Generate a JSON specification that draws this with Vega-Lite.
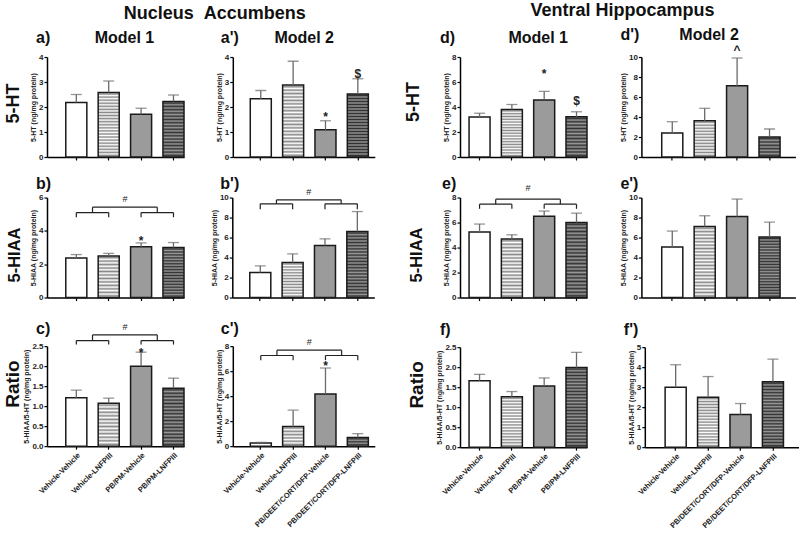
{
"$schema":"https://vega.github.io/schema/vega-lite/v6.json",
"padding":{"left":3,"top":2,"right":0,"bottom":0},
"config":{
"font":"Liberation Sans",
"view":{"stroke":null},
"axis":{"grid":false,"domainColor":"#000","domainWidth":1.5,"tickColor":"#000","tickWidth":1.2,"tickSize":3,"labelFont":"Liberation Sans","labelFontSize":8,"labelFontWeight":"bold","labelColor":"#222","labelPadding":1,"titleFont":"Liberation Sans","titleFontSize":7,"titleFontWeight":"bold","titleColor":"#222","titlePadding":2},
"title":{"font":"Liberation Sans","fontWeight":"bold","color":"#111"},
"style":{
"L6":{"color":{"gradient":"linear","x1":0,"y1":0,"x2":0,"y2":1,"stops":[{"offset":0,"color":"#fff"},{"offset":0.0833,"color":"#888"},{"offset":0.1667,"color":"#fff"},{"offset":0.25,"color":"#888"},{"offset":0.3333,"color":"#fff"},{"offset":0.4167,"color":"#888"},{"offset":0.5,"color":"#fff"},{"offset":0.5833,"color":"#888"},{"offset":0.6667,"color":"#fff"},{"offset":0.75,"color":"#888"},{"offset":0.8333,"color":"#fff"},{"offset":0.9167,"color":"#888"},{"offset":1,"color":"#fff"}]}},
"L12":{"color":{"gradient":"linear","x1":0,"y1":0,"x2":0,"y2":1,"stops":[{"offset":0,"color":"#fff"},{"offset":0.0417,"color":"#888"},{"offset":0.0833,"color":"#fff"},{"offset":0.125,"color":"#888"},{"offset":0.1667,"color":"#fff"},{"offset":0.2083,"color":"#888"},{"offset":0.25,"color":"#fff"},{"offset":0.2917,"color":"#888"},{"offset":0.3333,"color":"#fff"},{"offset":0.375,"color":"#888"},{"offset":0.4167,"color":"#fff"},{"offset":0.4583,"color":"#888"},{"offset":0.5,"color":"#fff"},{"offset":0.5417,"color":"#888"},{"offset":0.5833,"color":"#fff"},{"offset":0.625,"color":"#888"},{"offset":0.6667,"color":"#fff"},{"offset":0.7083,"color":"#888"},{"offset":0.75,"color":"#fff"},{"offset":0.7917,"color":"#888"},{"offset":0.8333,"color":"#fff"},{"offset":0.875,"color":"#888"},{"offset":0.9167,"color":"#fff"},{"offset":0.9583,"color":"#888"},{"offset":1,"color":"#fff"}]}},
"L17":{"color":{"gradient":"linear","x1":0,"y1":0,"x2":0,"y2":1,"stops":[{"offset":0,"color":"#fff"},{"offset":0.0294,"color":"#888"},{"offset":0.0588,"color":"#fff"},{"offset":0.0882,"color":"#888"},{"offset":0.1176,"color":"#fff"},{"offset":0.1471,"color":"#888"},{"offset":0.1765,"color":"#fff"},{"offset":0.2059,"color":"#888"},{"offset":0.2353,"color":"#fff"},{"offset":0.2647,"color":"#888"},{"offset":0.2941,"color":"#fff"},{"offset":0.3235,"color":"#888"},{"offset":0.3529,"color":"#fff"},{"offset":0.3824,"color":"#888"},{"offset":0.4118,"color":"#fff"},{"offset":0.4412,"color":"#888"},{"offset":0.4706,"color":"#fff"},{"offset":0.5,"color":"#888"},{"offset":0.5294,"color":"#fff"},{"offset":0.5588,"color":"#888"},{"offset":0.5882,"color":"#fff"},{"offset":0.6176,"color":"#888"},{"offset":0.6471,"color":"#fff"},{"offset":0.6765,"color":"#888"},{"offset":0.7059,"color":"#fff"},{"offset":0.7353,"color":"#888"},{"offset":0.7647,"color":"#fff"},{"offset":0.7941,"color":"#888"},{"offset":0.8235,"color":"#fff"},{"offset":0.8529,"color":"#888"},{"offset":0.8824,"color":"#fff"},{"offset":0.9118,"color":"#888"},{"offset":0.9412,"color":"#fff"},{"offset":0.9706,"color":"#888"},{"offset":1,"color":"#fff"}]}},
"L21":{"color":{"gradient":"linear","x1":0,"y1":0,"x2":0,"y2":1,"stops":[{"offset":0,"color":"#fff"},{"offset":0.0238,"color":"#888"},{"offset":0.0476,"color":"#fff"},{"offset":0.0714,"color":"#888"},{"offset":0.0952,"color":"#fff"},{"offset":0.119,"color":"#888"},{"offset":0.1429,"color":"#fff"},{"offset":0.1667,"color":"#888"},{"offset":0.1905,"color":"#fff"},{"offset":0.2143,"color":"#888"},{"offset":0.2381,"color":"#fff"},{"offset":0.2619,"color":"#888"},{"offset":0.2857,"color":"#fff"},{"offset":0.3095,"color":"#888"},{"offset":0.3333,"color":"#fff"},{"offset":0.3571,"color":"#888"},{"offset":0.381,"color":"#fff"},{"offset":0.4048,"color":"#888"},{"offset":0.4286,"color":"#fff"},{"offset":0.4524,"color":"#888"},{"offset":0.4762,"color":"#fff"},{"offset":0.5,"color":"#888"},{"offset":0.5238,"color":"#fff"},{"offset":0.5476,"color":"#888"},{"offset":0.5714,"color":"#fff"},{"offset":0.5952,"color":"#888"},{"offset":0.619,"color":"#fff"},{"offset":0.6429,"color":"#888"},{"offset":0.6667,"color":"#fff"},{"offset":0.6905,"color":"#888"},{"offset":0.7143,"color":"#fff"},{"offset":0.7381,"color":"#888"},{"offset":0.7619,"color":"#fff"},{"offset":0.7857,"color":"#888"},{"offset":0.8095,"color":"#fff"},{"offset":0.8333,"color":"#888"},{"offset":0.8571,"color":"#fff"},{"offset":0.881,"color":"#888"},{"offset":0.9048,"color":"#fff"},{"offset":0.9286,"color":"#888"},{"offset":0.9524,"color":"#fff"},{"offset":0.9762,"color":"#888"},{"offset":1,"color":"#fff"}]}},
"D3":{"color":{"gradient":"linear","x1":0,"y1":0,"x2":0,"y2":1,"stops":[{"offset":0,"color":"#999"},{"offset":0.1667,"color":"#333"},{"offset":0.3333,"color":"#999"},{"offset":0.5,"color":"#333"},{"offset":0.6667,"color":"#999"},{"offset":0.8333,"color":"#333"},{"offset":1,"color":"#999"}]}},
"D6":{"color":{"gradient":"linear","x1":0,"y1":0,"x2":0,"y2":1,"stops":[{"offset":0,"color":"#999"},{"offset":0.0833,"color":"#333"},{"offset":0.1667,"color":"#999"},{"offset":0.25,"color":"#333"},{"offset":0.3333,"color":"#999"},{"offset":0.4167,"color":"#333"},{"offset":0.5,"color":"#999"},{"offset":0.5833,"color":"#333"},{"offset":0.6667,"color":"#999"},{"offset":0.75,"color":"#333"},{"offset":0.8333,"color":"#999"},{"offset":0.9167,"color":"#333"},{"offset":1,"color":"#999"}]}},
"D12":{"color":{"gradient":"linear","x1":0,"y1":0,"x2":0,"y2":1,"stops":[{"offset":0,"color":"#999"},{"offset":0.0417,"color":"#333"},{"offset":0.0833,"color":"#999"},{"offset":0.125,"color":"#333"},{"offset":0.1667,"color":"#999"},{"offset":0.2083,"color":"#333"},{"offset":0.25,"color":"#999"},{"offset":0.2917,"color":"#333"},{"offset":0.3333,"color":"#999"},{"offset":0.375,"color":"#333"},{"offset":0.4167,"color":"#999"},{"offset":0.4583,"color":"#333"},{"offset":0.5,"color":"#999"},{"offset":0.5417,"color":"#333"},{"offset":0.5833,"color":"#999"},{"offset":0.625,"color":"#333"},{"offset":0.6667,"color":"#999"},{"offset":0.7083,"color":"#333"},{"offset":0.75,"color":"#999"},{"offset":0.7917,"color":"#333"},{"offset":0.8333,"color":"#999"},{"offset":0.875,"color":"#333"},{"offset":0.9167,"color":"#999"},{"offset":0.9583,"color":"#333"},{"offset":1,"color":"#999"}]}},
"D17":{"color":{"gradient":"linear","x1":0,"y1":0,"x2":0,"y2":1,"stops":[{"offset":0,"color":"#999"},{"offset":0.0294,"color":"#333"},{"offset":0.0588,"color":"#999"},{"offset":0.0882,"color":"#333"},{"offset":0.1176,"color":"#999"},{"offset":0.1471,"color":"#333"},{"offset":0.1765,"color":"#999"},{"offset":0.2059,"color":"#333"},{"offset":0.2353,"color":"#999"},{"offset":0.2647,"color":"#333"},{"offset":0.2941,"color":"#999"},{"offset":0.3235,"color":"#333"},{"offset":0.3529,"color":"#999"},{"offset":0.3824,"color":"#333"},{"offset":0.4118,"color":"#999"},{"offset":0.4412,"color":"#333"},{"offset":0.4706,"color":"#999"},{"offset":0.5,"color":"#333"},{"offset":0.5294,"color":"#999"},{"offset":0.5588,"color":"#333"},{"offset":0.5882,"color":"#999"},{"offset":0.6176,"color":"#333"},{"offset":0.6471,"color":"#999"},{"offset":0.6765,"color":"#333"},{"offset":0.7059,"color":"#999"},{"offset":0.7353,"color":"#333"},{"offset":0.7647,"color":"#999"},{"offset":0.7941,"color":"#333"},{"offset":0.8235,"color":"#999"},{"offset":0.8529,"color":"#333"},{"offset":0.8824,"color":"#999"},{"offset":0.9118,"color":"#333"},{"offset":0.9412,"color":"#999"},{"offset":0.9706,"color":"#333"},{"offset":1,"color":"#999"}]}},
"D21":{"color":{"gradient":"linear","x1":0,"y1":0,"x2":0,"y2":1,"stops":[{"offset":0,"color":"#999"},{"offset":0.0238,"color":"#333"},{"offset":0.0476,"color":"#999"},{"offset":0.0714,"color":"#333"},{"offset":0.0952,"color":"#999"},{"offset":0.119,"color":"#333"},{"offset":0.1429,"color":"#999"},{"offset":0.1667,"color":"#333"},{"offset":0.1905,"color":"#999"},{"offset":0.2143,"color":"#333"},{"offset":0.2381,"color":"#999"},{"offset":0.2619,"color":"#333"},{"offset":0.2857,"color":"#999"},{"offset":0.3095,"color":"#333"},{"offset":0.3333,"color":"#999"},{"offset":0.3571,"color":"#333"},{"offset":0.381,"color":"#999"},{"offset":0.4048,"color":"#333"},{"offset":0.4286,"color":"#999"},{"offset":0.4524,"color":"#333"},{"offset":0.4762,"color":"#999"},{"offset":0.5,"color":"#333"},{"offset":0.5238,"color":"#999"},{"offset":0.5476,"color":"#333"},{"offset":0.5714,"color":"#999"},{"offset":0.5952,"color":"#333"},{"offset":0.619,"color":"#999"},{"offset":0.6429,"color":"#333"},{"offset":0.6667,"color":"#999"},{"offset":0.6905,"color":"#333"},{"offset":0.7143,"color":"#999"},{"offset":0.7381,"color":"#333"},{"offset":0.7619,"color":"#999"},{"offset":0.7857,"color":"#333"},{"offset":0.8095,"color":"#999"},{"offset":0.8333,"color":"#333"},{"offset":0.8571,"color":"#999"},{"offset":0.881,"color":"#333"},{"offset":0.9048,"color":"#999"},{"offset":0.9286,"color":"#333"},{"offset":0.9524,"color":"#999"},{"offset":0.9762,"color":"#333"},{"offset":1,"color":"#999"}]}},
"D25":{"color":{"gradient":"linear","x1":0,"y1":0,"x2":0,"y2":1,"stops":[{"offset":0,"color":"#999"},{"offset":0.02,"color":"#333"},{"offset":0.04,"color":"#999"},{"offset":0.06,"color":"#333"},{"offset":0.08,"color":"#999"},{"offset":0.1,"color":"#333"},{"offset":0.12,"color":"#999"},{"offset":0.14,"color":"#333"},{"offset":0.16,"color":"#999"},{"offset":0.18,"color":"#333"},{"offset":0.2,"color":"#999"},{"offset":0.22,"color":"#333"},{"offset":0.24,"color":"#999"},{"offset":0.26,"color":"#333"},{"offset":0.28,"color":"#999"},{"offset":0.3,"color":"#333"},{"offset":0.32,"color":"#999"},{"offset":0.34,"color":"#333"},{"offset":0.36,"color":"#999"},{"offset":0.38,"color":"#333"},{"offset":0.4,"color":"#999"},{"offset":0.42,"color":"#333"},{"offset":0.44,"color":"#999"},{"offset":0.46,"color":"#333"},{"offset":0.48,"color":"#999"},{"offset":0.5,"color":"#333"},{"offset":0.52,"color":"#999"},{"offset":0.54,"color":"#333"},{"offset":0.56,"color":"#999"},{"offset":0.58,"color":"#333"},{"offset":0.6,"color":"#999"},{"offset":0.62,"color":"#333"},{"offset":0.64,"color":"#999"},{"offset":0.66,"color":"#333"},{"offset":0.68,"color":"#999"},{"offset":0.7,"color":"#333"},{"offset":0.72,"color":"#999"},{"offset":0.74,"color":"#333"},{"offset":0.76,"color":"#999"},{"offset":0.78,"color":"#333"},{"offset":0.8,"color":"#999"},{"offset":0.82,"color":"#333"},{"offset":0.84,"color":"#999"},{"offset":0.86,"color":"#333"},{"offset":0.88,"color":"#999"},{"offset":0.9,"color":"#333"},{"offset":0.92,"color":"#999"},{"offset":0.94,"color":"#333"},{"offset":0.96,"color":"#999"},{"offset":0.98,"color":"#333"},{"offset":1,"color":"#999"}]}}
}
},
"data":{"values":[
{"p":"a","k":"b","g":"Vehicle-Vehicle","m":2.18,"hi":2.5},
{"p":"a","k":"b","g":"Vehicle-LNFPIII","m":2.58,"hi":3.04},
{"p":"a","k":"b","g":"PB/PM-Vehicle","m":1.71,"hi":1.95},
{"p":"a","k":"b","g":"PB/PM-LNFPIII","m":2.22,"hi":2.48},
{"p":"a2","k":"b","g":"Vehicle-Vehicle","m":2.33,"hi":2.66},
{"p":"a2","k":"b","g":"Vehicle-LNFPIII","m":2.88,"hi":3.83},
{"p":"a2","k":"b","g":"PB/DEET/CORT/DFP-Vehicle","m":1.09,"hi":1.45},
{"p":"a2","k":"b","g":"PB/DEET/CORT/DFP-LNFPIII","m":2.52,"hi":3.13},
{"p":"a2","k":"s","g":"PB/DEET/CORT/DFP-Vehicle","t":"*","y":1.71},
{"p":"a2","k":"s","g":"PB/DEET/CORT/DFP-LNFPIII","t":"$","y":3.44},
{"p":"d","k":"b","g":"Vehicle-Vehicle","m":3.2,"hi":3.5},
{"p":"d","k":"b","g":"Vehicle-LNFPIII","m":3.8,"hi":4.2},
{"p":"d","k":"b","g":"PB/PM-Vehicle","m":4.57,"hi":5.25},
{"p":"d","k":"b","g":"PB/PM-LNFPIII","m":3.22,"hi":3.62},
{"p":"d","k":"s","g":"PB/PM-Vehicle","t":"*","y":6.88},
{"p":"d","k":"s","g":"PB/PM-LNFPIII","t":"$","y":4.75},
{"p":"d2","k":"b","g":"Vehicle-Vehicle","m":2.4,"hi":3.53},
{"p":"d2","k":"b","g":"Vehicle-LNFPIII","m":3.63,"hi":4.87},
{"p":"d2","k":"b","g":"PB/DEET/CORT/DFP-Vehicle","m":7.13,"hi":9.9},
{"p":"d2","k":"b","g":"PB/DEET/CORT/DFP-LNFPIII","m":2.0,"hi":2.8},
{"p":"d2","k":"s","g":"PB/DEET/CORT/DFP-Vehicle","t":"^","y":11.0},
{"p":"b","k":"b","g":"Vehicle-Vehicle","m":2.38,"hi":2.58},
{"p":"b","k":"b","g":"Vehicle-LNFPIII","m":2.5,"hi":2.65},
{"p":"b","k":"b","g":"PB/PM-Vehicle","m":3.05,"hi":3.28},
{"p":"b","k":"b","g":"PB/PM-LNFPIII","m":3.0,"hi":3.3},
{"p":"b","k":"s","g":"PB/PM-Vehicle","t":"*","y":3.58},
{"p":"b","k":"br","x":1,"x2":2,"y":5.1,"y2":5.1},
{"p":"b","k":"br","x":1,"x2":1,"y":4.82,"y2":5.1},
{"p":"b","k":"br","x":2,"x2":2,"y":4.82,"y2":5.1},
{"p":"b","k":"br","x":3,"x2":4,"y":5.1,"y2":5.1},
{"p":"b","k":"br","x":3,"x2":3,"y":4.82,"y2":5.1},
{"p":"b","k":"br","x":4,"x2":4,"y":4.82,"y2":5.1},
{"p":"b","k":"br","x":1.5,"x2":3.5,"y":5.42,"y2":5.42},
{"p":"b","k":"br","x":1.5,"x2":1.5,"y":5.1,"y2":5.42},
{"p":"b","k":"br","x":3.5,"x2":3.5,"y":5.1,"y2":5.42},
{"p":"b","k":"h","x":2.5,"y":5.9,"t":"#"},
{"p":"b2","k":"b","g":"Vehicle-Vehicle","m":2.5,"hi":3.17},
{"p":"b2","k":"b","g":"Vehicle-LNFPIII","m":3.5,"hi":4.37},
{"p":"b2","k":"b","g":"PB/DEET/CORT/DFP-Vehicle","m":5.2,"hi":5.87},
{"p":"b2","k":"b","g":"PB/DEET/CORT/DFP-LNFPIII","m":6.6,"hi":8.6},
{"p":"b2","k":"br","x":1,"x2":2,"y":9.37,"y2":9.37},
{"p":"b2","k":"br","x":1,"x2":1,"y":8.84,"y2":9.37},
{"p":"b2","k":"br","x":2,"x2":2,"y":8.84,"y2":9.37},
{"p":"b2","k":"br","x":3,"x2":4,"y":9.37,"y2":9.37},
{"p":"b2","k":"br","x":3,"x2":3,"y":8.84,"y2":9.37},
{"p":"b2","k":"br","x":4,"x2":4,"y":8.84,"y2":9.37},
{"p":"b2","k":"br","x":1.5,"x2":3.5,"y":9.77,"y2":9.77},
{"p":"b2","k":"br","x":1.5,"x2":1.5,"y":9.37,"y2":9.77},
{"p":"b2","k":"br","x":3.5,"x2":3.5,"y":9.37,"y2":9.77},
{"p":"b2","k":"h","x":2.5,"y":10.6,"t":"#"},
{"p":"e","k":"b","g":"Vehicle-Vehicle","m":5.25,"hi":5.88},
{"p":"e","k":"b","g":"Vehicle-LNFPIII","m":4.68,"hi":5.02},
{"p":"e","k":"b","g":"PB/PM-Vehicle","m":6.5,"hi":6.92},
{"p":"e","k":"b","g":"PB/PM-LNFPIII","m":6.0,"hi":6.75},
{"p":"e","k":"br","x":1,"x2":2,"y":7.47,"y2":7.47},
{"p":"e","k":"br","x":1,"x2":1,"y":7.1,"y2":7.47},
{"p":"e","k":"br","x":2,"x2":2,"y":7.1,"y2":7.47},
{"p":"e","k":"br","x":3,"x2":4,"y":7.47,"y2":7.47},
{"p":"e","k":"br","x":3,"x2":3,"y":7.1,"y2":7.47},
{"p":"e","k":"br","x":4,"x2":4,"y":7.1,"y2":7.47},
{"p":"e","k":"br","x":1.5,"x2":3.5,"y":7.87,"y2":7.87},
{"p":"e","k":"br","x":1.5,"x2":1.5,"y":7.47,"y2":7.87},
{"p":"e","k":"br","x":3.5,"x2":3.5,"y":7.47,"y2":7.87},
{"p":"e","k":"h","x":2.5,"y":8.75,"t":"#"},
{"p":"e2","k":"b","g":"Vehicle-Vehicle","m":5.05,"hi":6.65},
{"p":"e2","k":"b","g":"Vehicle-LNFPIII","m":7.1,"hi":8.18},
{"p":"e2","k":"b","g":"PB/DEET/CORT/DFP-Vehicle","m":8.1,"hi":9.85},
{"p":"e2","k":"b","g":"PB/DEET/CORT/DFP-LNFPIII","m":6.05,"hi":7.55},
{"p":"c","k":"b","g":"Vehicle-Vehicle","m":1.21,"hi":1.4},
{"p":"c","k":"b","g":"Vehicle-LNFPIII","m":1.07,"hi":1.2},
{"p":"c","k":"b","g":"PB/PM-Vehicle","m":2.0,"hi":2.35},
{"p":"c","k":"b","g":"PB/PM-LNFPIII","m":1.45,"hi":1.7},
{"p":"c","k":"s","g":"PB/PM-Vehicle","t":"*","y":2.4},
{"p":"c","k":"br","x":1,"x2":2,"y":2.64,"y2":2.64},
{"p":"c","k":"br","x":1,"x2":1,"y":2.54,"y2":2.64},
{"p":"c","k":"br","x":2,"x2":2,"y":2.54,"y2":2.64},
{"p":"c","k":"br","x":3,"x2":4,"y":2.64,"y2":2.64},
{"p":"c","k":"br","x":3,"x2":3,"y":2.54,"y2":2.64},
{"p":"c","k":"br","x":4,"x2":4,"y":2.54,"y2":2.64},
{"p":"c","k":"br","x":1.5,"x2":3.5,"y":2.78,"y2":2.78},
{"p":"c","k":"br","x":1.5,"x2":1.5,"y":2.64,"y2":2.78},
{"p":"c","k":"br","x":3.5,"x2":3.5,"y":2.64,"y2":2.78},
{"p":"c","k":"h","x":2.5,"y":2.98,"t":"#"},
{"p":"c2","k":"b","g":"Vehicle-Vehicle","m":0.25,"hi":0.3},
{"p":"c2","k":"b","g":"Vehicle-LNFPIII","m":1.58,"hi":2.88},
{"p":"c2","k":"b","g":"PB/DEET/CORT/DFP-Vehicle","m":4.18,"hi":6.25},
{"p":"c2","k":"b","g":"PB/DEET/CORT/DFP-LNFPIII","m":0.7,"hi":1.0},
{"p":"c2","k":"s","g":"PB/DEET/CORT/DFP-Vehicle","t":"*","y":6.66},
{"p":"c2","k":"br","x":1,"x2":2,"y":7.25,"y2":7.25},
{"p":"c2","k":"br","x":1,"x2":1,"y":6.88,"y2":7.25},
{"p":"c2","k":"br","x":2,"x2":2,"y":6.88,"y2":7.25},
{"p":"c2","k":"br","x":3,"x2":4,"y":7.25,"y2":7.25},
{"p":"c2","k":"br","x":3,"x2":3,"y":6.88,"y2":7.25},
{"p":"c2","k":"br","x":4,"x2":4,"y":6.88,"y2":7.25},
{"p":"c2","k":"br","x":1.5,"x2":3.5,"y":7.68,"y2":7.68},
{"p":"c2","k":"br","x":1.5,"x2":1.5,"y":7.25,"y2":7.68},
{"p":"c2","k":"br","x":3.5,"x2":3.5,"y":7.25,"y2":7.68},
{"p":"c2","k":"h","x":2.5,"y":8.3,"t":"#"},
{"p":"f","k":"b","g":"Vehicle-Vehicle","m":1.66,"hi":1.82},
{"p":"f","k":"b","g":"Vehicle-LNFPIII","m":1.26,"hi":1.39},
{"p":"f","k":"b","g":"PB/PM-Vehicle","m":1.53,"hi":1.73},
{"p":"f","k":"b","g":"PB/PM-LNFPIII","m":1.99,"hi":2.37},
{"p":"f2","k":"b","g":"Vehicle-Vehicle","m":3.0,"hi":4.12},
{"p":"f2","k":"b","g":"Vehicle-LNFPIII","m":2.5,"hi":3.53},
{"p":"f2","k":"b","g":"PB/DEET/CORT/DFP-Vehicle","m":1.63,"hi":2.18},
{"p":"f2","k":"b","g":"PB/DEET/CORT/DFP-LNFPIII","m":3.27,"hi":4.4}
]},
"spacing":30,
"hconcat":[
{"title":{"text":"Nucleus\u00a0\u00a0Accumbens","fontSize":18,"anchor":"middle","dx":25.5,"offset":7},
"spacing":19.15,
"vconcat":[
{"spacing":14.55,"vconcat":[
{"title":{"text":"5-HT","orient":"left","anchor":"middle","fontSize":18,"offset":6.2,"dx":-7.8},"spacing":29.8,"hconcat":[
{"width":137,"height":100,"title":{"text":"a)\u00a0\u00a0\u00a0\u00a0\u00a0\u00a0\u00a0\u00a0\u00a0\u00a0Model 1","anchor":"start","frame":"group","dx":-11,"fontSize":16,"offset":6.7},
"transform":[{"filter":"datum.p=='a'"}],
"encoding":{"x":{"field":"g","type":"nominal","title":null,"scale":{"domain":["Vehicle-Vehicle","Vehicle-LNFPIII","PB/PM-Vehicle","PB/PM-LNFPIII"],"paddingInner":0.35,"paddingOuter":0.29,"align":1},"axis":{"labels":false}},
"y":{"field":"m","type":"quantitative","scale":{"domain":[0,4],"nice":false},"axis":{"title":"5-HT (ng/mg protein)","values":[0,1,2,3,4]}}},
"layer":[
{"transform":[{"filter":"datum.k=='b' && indexof(datum.g,'LNF')<0"}],"mark":{"type":"bar","stroke":"#1a1a1a","strokeWidth":1.5},"encoding":{"fill":{"condition":{"test":"datum.g=='Vehicle-Vehicle'","value":"#fff"},"value":"#9b9b9b"}}},
{"transform":[{"filter":"datum.k=='b' && datum.g=='Vehicle-LNFPIII'"}],"mark":{"type":"bar","style":"L21","stroke":"#1a1a1a","strokeWidth":1.5}},
{"transform":[{"filter":"datum.k=='b' && indexof(datum.g,'PB')==0 && indexof(datum.g,'LNF')>0"}],"mark":{"type":"bar","style":"D17","stroke":"#1a1a1a","strokeWidth":1.5}},
{"transform":[{"filter":"datum.k=='b'"}],"mark":{"type":"rule","color":"#6a6a6a","strokeWidth":1.3},"encoding":{"y2":{"field":"hi"}}},
{"transform":[{"filter":"datum.k=='b'"}],"mark":{"type":"tick","color":"#6a6a6a","thickness":1.3,"size":11},"encoding":{"y":{"field":"hi","type":"quantitative"}}}
]},
{"width":142,"height":100,"title":{"text":"a')\u00a0\u00a0\u00a0\u00a0\u00a0\u00a0\u00a0\u00a0Model 2","anchor":"start","frame":"group","dx":-12,"fontSize":16,"offset":6.7},
"transform":[{"filter":"datum.p=='a2'"}],
"encoding":{"x":{"field":"g","type":"nominal","title":null,"scale":{"domain":["Vehicle-Vehicle","Vehicle-LNFPIII","PB/DEET/CORT/DFP-Vehicle","PB/DEET/CORT/DFP-LNFPIII"],"paddingInner":0.35,"paddingOuter":0.37,"align":0.73},"axis":{"labels":false}},
"y":{"field":"m","type":"quantitative","scale":{"domain":[0,4],"nice":false},"axis":{"title":"5-HT (ng/mg protein)","values":[0,1,2,3,4]}}},
"layer":[
{"transform":[{"filter":"datum.k=='b' && indexof(datum.g,'LNF')<0"}],"mark":{"type":"bar","stroke":"#1a1a1a","strokeWidth":1.5},"encoding":{"fill":{"condition":{"test":"datum.g=='Vehicle-Vehicle'","value":"#fff"},"value":"#9b9b9b"}}},
{"transform":[{"filter":"datum.k=='b' && datum.g=='Vehicle-LNFPIII'"}],"mark":{"type":"bar","style":"L21","stroke":"#1a1a1a","strokeWidth":1.5}},
{"transform":[{"filter":"datum.k=='b' && indexof(datum.g,'PB')==0 && indexof(datum.g,'LNF')>0"}],"mark":{"type":"bar","style":"D21","stroke":"#1a1a1a","strokeWidth":1.5}},
{"transform":[{"filter":"datum.k=='b'"}],"mark":{"type":"rule","color":"#6a6a6a","strokeWidth":1.3},"encoding":{"y2":{"field":"hi"}}},
{"transform":[{"filter":"datum.k=='b'"}],"mark":{"type":"tick","color":"#6a6a6a","thickness":1.3,"size":11},"encoding":{"y":{"field":"hi","type":"quantitative"}}},
{"transform":[{"filter":"datum.k=='s'"}],"mark":{"type":"text","fontSize":12,"fontWeight":"bold","fill":"#222","baseline":"middle","dy":3},"encoding":{"y":{"field":"y","type":"quantitative"},"text":{"field":"t"}}}
]}
]},
{"title":{"text":"5-HIAA","orient":"left","anchor":"middle","fontSize":16.5,"offset":6.2,"dx":-16.3},"spacing":25.3,"hconcat":[
{"width":137,"height":100,"title":{"text":"b)","anchor":"start","frame":"group","dx":-11,"fontSize":16,"offset":1.7},
"transform":[{"filter":"datum.p=='b'"}],
"resolve":{"scale":{"x":"independent"}},
"layer":[
{"encoding":{"x":{"field":"g","type":"nominal","title":null,"scale":{"domain":["Vehicle-Vehicle","Vehicle-LNFPIII","PB/PM-Vehicle","PB/PM-LNFPIII"],"paddingInner":0.35,"paddingOuter":0.29,"align":1},"axis":{"labels":false}},
"y":{"field":"m","type":"quantitative","scale":{"domain":[0,6],"nice":false},"axis":{"title":"5-HIAA (ng/mg protein)","values":[0,2,4,6]}}},
"layer":[
{"transform":[{"filter":"datum.k=='b' && indexof(datum.g,'LNF')<0"}],"mark":{"type":"bar","stroke":"#1a1a1a","strokeWidth":1.5},"encoding":{"fill":{"condition":{"test":"datum.g=='Vehicle-Vehicle'","value":"#fff"},"value":"#9b9b9b"}}},
{"transform":[{"filter":"datum.k=='b' && datum.g=='Vehicle-LNFPIII'"}],"mark":{"type":"bar","style":"L12","stroke":"#1a1a1a","strokeWidth":1.5}},
{"transform":[{"filter":"datum.k=='b' && indexof(datum.g,'PB')==0 && indexof(datum.g,'LNF')>0"}],"mark":{"type":"bar","style":"D17","stroke":"#1a1a1a","strokeWidth":1.5}},
{"transform":[{"filter":"datum.k=='b'"}],"mark":{"type":"rule","color":"#6a6a6a","strokeWidth":1.3},"encoding":{"y2":{"field":"hi"}}},
{"transform":[{"filter":"datum.k=='b'"}],"mark":{"type":"tick","color":"#6a6a6a","thickness":1.3,"size":11},"encoding":{"y":{"field":"hi","type":"quantitative"}}},
{"transform":[{"filter":"datum.k=='s'"}],"mark":{"type":"text","fontSize":12,"fontWeight":"bold","fill":"#222","baseline":"middle","dy":3},"encoding":{"y":{"field":"y","type":"quantitative"},"text":{"field":"t"}}}
]},
{"encoding":{"x":{"field":"x","type":"quantitative","scale":{"domain":[0.095,4.325],"nice":false,"zero":false},"axis":null},"y":{"field":"y","type":"quantitative","scale":{"domain":[0,6],"nice":false},"axis":{"title":"5-HIAA (ng/mg protein)","values":[0,2,4,6]}}},
"layer":[
{"transform":[{"filter":"datum.k=='br'"}],"mark":{"type":"rule","color":"#222","strokeWidth":1.2},"encoding":{"x2":{"field":"x2"},"y2":{"field":"y2"}}},
{"transform":[{"filter":"datum.k=='h'"}],"mark":{"type":"text","fontSize":9,"fill":"#222"},"encoding":{"text":{"field":"t"}}}
]}
]},
{"width":142,"height":100,"title":{"text":"b')","anchor":"start","frame":"group","dx":-12,"fontSize":16,"offset":-4.8},
"transform":[{"filter":"datum.p=='b2'"}],
"resolve":{"scale":{"x":"independent"}},
"layer":[
{"encoding":{"x":{"field":"g","type":"nominal","title":null,"scale":{"domain":["Vehicle-Vehicle","Vehicle-LNFPIII","PB/DEET/CORT/DFP-Vehicle","PB/DEET/CORT/DFP-LNFPIII"],"paddingInner":0.35,"paddingOuter":0.37,"align":0.73},"axis":{"labels":false}},
"y":{"field":"m","type":"quantitative","scale":{"domain":[0,10],"nice":false},"axis":{"title":"5-HIAA (ng/mg protein)","values":[0,2,4,6,8,10]}}},
"layer":[
{"transform":[{"filter":"datum.k=='b' && indexof(datum.g,'LNF')<0"}],"mark":{"type":"bar","stroke":"#1a1a1a","strokeWidth":1.5},"encoding":{"fill":{"condition":{"test":"datum.g=='Vehicle-Vehicle'","value":"#fff"},"value":"#9b9b9b"}}},
{"transform":[{"filter":"datum.k=='b' && datum.g=='Vehicle-LNFPIII'"}],"mark":{"type":"bar","style":"L12","stroke":"#1a1a1a","strokeWidth":1.5}},
{"transform":[{"filter":"datum.k=='b' && indexof(datum.g,'PB')==0 && indexof(datum.g,'LNF')>0"}],"mark":{"type":"bar","style":"D21","stroke":"#1a1a1a","strokeWidth":1.5}},
{"transform":[{"filter":"datum.k=='b'"}],"mark":{"type":"rule","color":"#6a6a6a","strokeWidth":1.3},"encoding":{"y2":{"field":"hi"}}},
{"transform":[{"filter":"datum.k=='b'"}],"mark":{"type":"tick","color":"#6a6a6a","thickness":1.3,"size":11},"encoding":{"y":{"field":"hi","type":"quantitative"}}}
]},
{"encoding":{"x":{"field":"x","type":"quantitative","scale":{"domain":[0.135,4.525],"nice":false,"zero":false},"axis":null},"y":{"field":"y","type":"quantitative","scale":{"domain":[0,10],"nice":false},"axis":{"title":"5-HIAA (ng/mg protein)","values":[0,2,4,6,8,10]}}},
"layer":[
{"transform":[{"filter":"datum.k=='br'"}],"mark":{"type":"rule","color":"#222","strokeWidth":1.2},"encoding":{"x2":{"field":"x2"},"y2":{"field":"y2"}}},
{"transform":[{"filter":"datum.k=='h'"}],"mark":{"type":"text","fontSize":9,"fill":"#222"},"encoding":{"text":{"field":"t"}}}
]}
]}
]}
]},
{"title":{"text":"Ratio","orient":"left","anchor":"middle","fontSize":19,"offset":0,"dx":40.6},"spacing":29.8,"hconcat":[
{"width":137,"height":100,"title":{"text":"c)","anchor":"start","frame":"group","dx":-11,"fontSize":16,"offset":-14.3},
"transform":[{"filter":"datum.p=='c'"}],
"resolve":{"scale":{"x":"independent"}},
"layer":[
{"encoding":{"x":{"field":"g","type":"nominal","title":null,"scale":{"domain":["Vehicle-Vehicle","Vehicle-LNFPIII","PB/PM-Vehicle","PB/PM-LNFPIII"],"paddingInner":0.35,"paddingOuter":0.29,"align":1},"axis":{"labelAngle":-45,"labelPadding":2,"labelFontSize":7.5}},
"y":{"field":"m","type":"quantitative","scale":{"domain":[0,2.5],"nice":false},"axis":{"title":"5-HIAA/5-HT (ng/mg protein)","values":[0,0.5,1,1.5,2,2.5],"format":".1f"}}},
"layer":[
{"transform":[{"filter":"datum.k=='b' && indexof(datum.g,'LNF')<0"}],"mark":{"type":"bar","stroke":"#1a1a1a","strokeWidth":1.5},"encoding":{"fill":{"condition":{"test":"datum.g=='Vehicle-Vehicle'","value":"#fff"},"value":"#9b9b9b"}}},
{"transform":[{"filter":"datum.k=='b' && datum.g=='Vehicle-LNFPIII'"}],"mark":{"type":"bar","style":"L12","stroke":"#1a1a1a","strokeWidth":1.5}},
{"transform":[{"filter":"datum.k=='b' && indexof(datum.g,'PB')==0 && indexof(datum.g,'LNF')>0"}],"mark":{"type":"bar","style":"D17","stroke":"#1a1a1a","strokeWidth":1.5}},
{"transform":[{"filter":"datum.k=='b'"}],"mark":{"type":"rule","color":"#6a6a6a","strokeWidth":1.3},"encoding":{"y2":{"field":"hi"}}},
{"transform":[{"filter":"datum.k=='b'"}],"mark":{"type":"tick","color":"#6a6a6a","thickness":1.3,"size":11},"encoding":{"y":{"field":"hi","type":"quantitative"}}},
{"transform":[{"filter":"datum.k=='s'"}],"mark":{"type":"text","fontSize":12,"fontWeight":"bold","fill":"#222","baseline":"middle","dy":3},"encoding":{"y":{"field":"y","type":"quantitative"},"text":{"field":"t"}}}
]},
{"encoding":{"x":{"field":"x","type":"quantitative","scale":{"domain":[0.095,4.325],"nice":false,"zero":false},"axis":null},"y":{"field":"y","type":"quantitative","scale":{"domain":[0,2.5],"nice":false},"axis":{"title":"5-HIAA/5-HT (ng/mg protein)","values":[0,0.5,1,1.5,2,2.5],"format":".1f"}}},
"layer":[
{"transform":[{"filter":"datum.k=='br'"}],"mark":{"type":"rule","color":"#222","strokeWidth":1.2},"encoding":{"x2":{"field":"x2"},"y2":{"field":"y2"}}},
{"transform":[{"filter":"datum.k=='h'"}],"mark":{"type":"text","fontSize":9,"fill":"#222"},"encoding":{"text":{"field":"t"}}}
]}
]},
{"width":142,"height":100,"title":{"text":"c')","anchor":"start","frame":"group","dx":-12,"fontSize":16,"offset":1.05},
"transform":[{"filter":"datum.p=='c2'"}],
"resolve":{"scale":{"x":"independent"}},
"layer":[
{"encoding":{"x":{"field":"g","type":"nominal","title":null,"scale":{"domain":["Vehicle-Vehicle","Vehicle-LNFPIII","PB/DEET/CORT/DFP-Vehicle","PB/DEET/CORT/DFP-LNFPIII"],"paddingInner":0.35,"paddingOuter":0.37,"align":0.73},"axis":{"labelAngle":-45,"labelPadding":2,"labelFontSize":7.5}},
"y":{"field":"m","type":"quantitative","scale":{"domain":[0,8],"nice":false},"axis":{"title":"5-HIAA/5-HT (ng/mg protein)","values":[0,2,4,6,8]}}},
"layer":[
{"transform":[{"filter":"datum.k=='b' && indexof(datum.g,'LNF')<0"}],"mark":{"type":"bar","stroke":"#1a1a1a","strokeWidth":1.5},"encoding":{"fill":{"condition":{"test":"datum.g=='Vehicle-Vehicle'","value":"#fff"},"value":"#9b9b9b"}}},
{"transform":[{"filter":"datum.k=='b' && datum.g=='Vehicle-LNFPIII'"}],"mark":{"type":"bar","style":"L6","stroke":"#1a1a1a","strokeWidth":1.5}},
{"transform":[{"filter":"datum.k=='b' && indexof(datum.g,'PB')==0 && indexof(datum.g,'LNF')>0"}],"mark":{"type":"bar","style":"D3","stroke":"#1a1a1a","strokeWidth":1.5}},
{"transform":[{"filter":"datum.k=='b'"}],"mark":{"type":"rule","color":"#6a6a6a","strokeWidth":1.3},"encoding":{"y2":{"field":"hi"}}},
{"transform":[{"filter":"datum.k=='b'"}],"mark":{"type":"tick","color":"#6a6a6a","thickness":1.3,"size":11},"encoding":{"y":{"field":"hi","type":"quantitative"}}},
{"transform":[{"filter":"datum.k=='s'"}],"mark":{"type":"text","fontSize":12,"fontWeight":"bold","fill":"#222","baseline":"middle","dy":3},"encoding":{"y":{"field":"y","type":"quantitative"},"text":{"field":"t"}}}
]},
{"encoding":{"x":{"field":"x","type":"quantitative","scale":{"domain":[0.135,4.525],"nice":false,"zero":false},"axis":null},"y":{"field":"y","type":"quantitative","scale":{"domain":[0,8],"nice":false},"axis":{"title":"5-HIAA/5-HT (ng/mg protein)","values":[0,2,4,6,8]}}},
"layer":[
{"transform":[{"filter":"datum.k=='br'"}],"mark":{"type":"rule","color":"#222","strokeWidth":1.2},"encoding":{"x2":{"field":"x2"},"y2":{"field":"y2"}}},
{"transform":[{"filter":"datum.k=='h'"}],"mark":{"type":"text","fontSize":9,"fill":"#222"},"encoding":{"text":{"field":"t"}}}
]}
]}
]}
]},
{"title":{"text":"Ventral Hippocampus","fontSize":18,"anchor":"middle","dx":20.5,"offset":7},
"spacing":19.15,
"vconcat":[
{"spacing":14.55,"vconcat":[
{"title":{"text":"5-HT","orient":"left","anchor":"middle","fontSize":18,"offset":16.7,"dx":-7.8},"spacing":31.4,"hconcat":[
{"width":127,"height":100,"title":{"text":"d)\u00a0\u00a0\u00a0\u00a0\u00a0\u00a0\u00a0\u00a0\u00a0\u00a0\u00a0\u00a0Model 1","anchor":"start","frame":"group","dx":-20,"fontSize":16,"offset":6.7},
"transform":[{"filter":"datum.p=='d'"}],
"encoding":{"x":{"field":"g","type":"nominal","title":null,"scale":{"domain":["Vehicle-Vehicle","Vehicle-LNFPIII","PB/PM-Vehicle","PB/PM-LNFPIII"],"paddingInner":0.35,"paddingOuter":0.14,"align":1},"axis":{"labels":false}},
"y":{"field":"m","type":"quantitative","scale":{"domain":[0,8],"nice":false},"axis":{"title":"5-HT (ng/mg protein)","values":[0,2,4,6,8]}}},
"layer":[
{"transform":[{"filter":"datum.k=='b' && indexof(datum.g,'LNF')<0"}],"mark":{"type":"bar","stroke":"#1a1a1a","strokeWidth":1.5},"encoding":{"fill":{"condition":{"test":"datum.g=='Vehicle-Vehicle'","value":"#fff"},"value":"#9b9b9b"}}},
{"transform":[{"filter":"datum.k=='b' && datum.g=='Vehicle-LNFPIII'"}],"mark":{"type":"bar","style":"L17","stroke":"#1a1a1a","strokeWidth":1.5}},
{"transform":[{"filter":"datum.k=='b' && indexof(datum.g,'PB')==0 && indexof(datum.g,'LNF')>0"}],"mark":{"type":"bar","style":"D12","stroke":"#1a1a1a","strokeWidth":1.5}},
{"transform":[{"filter":"datum.k=='b'"}],"mark":{"type":"rule","color":"#6a6a6a","strokeWidth":1.3},"encoding":{"y2":{"field":"hi"}}},
{"transform":[{"filter":"datum.k=='b'"}],"mark":{"type":"tick","color":"#6a6a6a","thickness":1.3,"size":11},"encoding":{"y":{"field":"hi","type":"quantitative"}}},
{"transform":[{"filter":"datum.k=='s'"}],"mark":{"type":"text","fontSize":12,"fontWeight":"bold","fill":"#222","baseline":"middle","dy":3},"encoding":{"y":{"field":"y","type":"quantitative"},"text":{"field":"t"}}}
]},
{"width":154,"height":100,"title":{"text":"d')\u00a0\u00a0\u00a0\u00a0\u00a0\u00a0\u00a0\u00a0\u00a0Model 2","anchor":"start","frame":"group","dx":-21,"fontSize":16,"offset":0.7},
"transform":[{"filter":"datum.p=='d2'"}],
"encoding":{"x":{"field":"g","type":"nominal","title":null,"scale":{"domain":["Vehicle-Vehicle","Vehicle-LNFPIII","PB/DEET/CORT/DFP-Vehicle","PB/DEET/CORT/DFP-LNFPIII"],"paddingInner":0.35,"paddingOuter":0.55,"align":0.57},"axis":{"labels":false}},
"y":{"field":"m","type":"quantitative","scale":{"domain":[0,10],"nice":false},"axis":{"title":"5-HT (ng/mg protein)","values":[0,2,4,6,8,10]}}},
"layer":[
{"transform":[{"filter":"datum.k=='b' && indexof(datum.g,'LNF')<0"}],"mark":{"type":"bar","stroke":"#1a1a1a","strokeWidth":1.5},"encoding":{"fill":{"condition":{"test":"datum.g=='Vehicle-Vehicle'","value":"#fff"},"value":"#9b9b9b"}}},
{"transform":[{"filter":"datum.k=='b' && datum.g=='Vehicle-LNFPIII'"}],"mark":{"type":"bar","style":"L12","stroke":"#1a1a1a","strokeWidth":1.5}},
{"transform":[{"filter":"datum.k=='b' && indexof(datum.g,'PB')==0 && indexof(datum.g,'LNF')>0"}],"mark":{"type":"bar","style":"D6","stroke":"#1a1a1a","strokeWidth":1.5}},
{"transform":[{"filter":"datum.k=='b'"}],"mark":{"type":"rule","color":"#6a6a6a","strokeWidth":1.3},"encoding":{"y2":{"field":"hi"}}},
{"transform":[{"filter":"datum.k=='b'"}],"mark":{"type":"tick","color":"#6a6a6a","thickness":1.3,"size":11},"encoding":{"y":{"field":"hi","type":"quantitative"}}},
{"transform":[{"filter":"datum.k=='s'"}],"mark":{"type":"text","fontSize":12,"fontWeight":"bold","fill":"#222","baseline":"middle","dy":3},"encoding":{"y":{"field":"y","type":"quantitative"},"text":{"field":"t"}}}
]}
]},
{"title":{"text":"5-HIAA","orient":"left","anchor":"middle","fontSize":16.5,"offset":16.7,"dx":-16.3},"spacing":31.4,"hconcat":[
{"width":127,"height":100,"title":{"text":"e)","anchor":"start","frame":"group","dx":-18,"fontSize":16,"offset":-8.2},
"transform":[{"filter":"datum.p=='e'"}],
"resolve":{"scale":{"x":"independent"}},
"layer":[
{"encoding":{"x":{"field":"g","type":"nominal","title":null,"scale":{"domain":["Vehicle-Vehicle","Vehicle-LNFPIII","PB/PM-Vehicle","PB/PM-LNFPIII"],"paddingInner":0.35,"paddingOuter":0.14,"align":1},"axis":{"labels":false}},
"y":{"field":"m","type":"quantitative","scale":{"domain":[0,8],"nice":false},"axis":{"title":"5-HIAA (ng/mg protein)","values":[0,2,4,6,8]}}},
"layer":[
{"transform":[{"filter":"datum.k=='b' && indexof(datum.g,'LNF')<0"}],"mark":{"type":"bar","stroke":"#1a1a1a","strokeWidth":1.5},"encoding":{"fill":{"condition":{"test":"datum.g=='Vehicle-Vehicle'","value":"#fff"},"value":"#9b9b9b"}}},
{"transform":[{"filter":"datum.k=='b' && datum.g=='Vehicle-LNFPIII'"}],"mark":{"type":"bar","style":"L17","stroke":"#1a1a1a","strokeWidth":1.5}},
{"transform":[{"filter":"datum.k=='b' && indexof(datum.g,'PB')==0 && indexof(datum.g,'LNF')>0"}],"mark":{"type":"bar","style":"D21","stroke":"#1a1a1a","strokeWidth":1.5}},
{"transform":[{"filter":"datum.k=='b'"}],"mark":{"type":"rule","color":"#6a6a6a","strokeWidth":1.3},"encoding":{"y2":{"field":"hi"}}},
{"transform":[{"filter":"datum.k=='b'"}],"mark":{"type":"tick","color":"#6a6a6a","thickness":1.3,"size":11},"encoding":{"y":{"field":"hi","type":"quantitative"}}}
]},
{"encoding":{"x":{"field":"x","type":"quantitative","scale":{"domain":[0.395,4.325],"nice":false,"zero":false},"axis":null},"y":{"field":"y","type":"quantitative","scale":{"domain":[0,8],"nice":false},"axis":{"title":"5-HIAA (ng/mg protein)","values":[0,2,4,6,8]}}},
"layer":[
{"transform":[{"filter":"datum.k=='br'"}],"mark":{"type":"rule","color":"#222","strokeWidth":1.2},"encoding":{"x2":{"field":"x2"},"y2":{"field":"y2"}}},
{"transform":[{"filter":"datum.k=='h'"}],"mark":{"type":"text","fontSize":9,"fill":"#222"},"encoding":{"text":{"field":"t"}}}
]}
]},
{"width":154,"height":100,"title":{"text":"e')","anchor":"start","frame":"group","dx":-21,"fontSize":16,"offset":1.7},
"transform":[{"filter":"datum.p=='e2'"}],
"encoding":{"x":{"field":"g","type":"nominal","title":null,"scale":{"domain":["Vehicle-Vehicle","Vehicle-LNFPIII","PB/DEET/CORT/DFP-Vehicle","PB/DEET/CORT/DFP-LNFPIII"],"paddingInner":0.35,"paddingOuter":0.55,"align":0.57},"axis":{"labels":false}},
"y":{"field":"m","type":"quantitative","scale":{"domain":[0,10],"nice":false},"axis":{"title":"5-HIAA (ng/mg protein)","values":[0,2,4,6,8,10]}}},
"layer":[
{"transform":[{"filter":"datum.k=='b' && indexof(datum.g,'LNF')<0"}],"mark":{"type":"bar","stroke":"#1a1a1a","strokeWidth":1.5},"encoding":{"fill":{"condition":{"test":"datum.g=='Vehicle-Vehicle'","value":"#fff"},"value":"#9b9b9b"}}},
{"transform":[{"filter":"datum.k=='b' && datum.g=='Vehicle-LNFPIII'"}],"mark":{"type":"bar","style":"L21","stroke":"#1a1a1a","strokeWidth":1.5}},
{"transform":[{"filter":"datum.k=='b' && indexof(datum.g,'PB')==0 && indexof(datum.g,'LNF')>0"}],"mark":{"type":"bar","style":"D21","stroke":"#1a1a1a","strokeWidth":1.5}},
{"transform":[{"filter":"datum.k=='b'"}],"mark":{"type":"rule","color":"#6a6a6a","strokeWidth":1.3},"encoding":{"y2":{"field":"hi"}}},
{"transform":[{"filter":"datum.k=='b'"}],"mark":{"type":"tick","color":"#6a6a6a","thickness":1.3,"size":11},"encoding":{"y":{"field":"hi","type":"quantitative"}}}
]}
]}
]},
{"title":{"text":"Ratio","orient":"left","anchor":"middle","fontSize":19,"offset":8.7,"dx":40.6},"spacing":35.8,"hconcat":[
{"width":127,"height":100,"title":{"text":"f)","anchor":"start","frame":"group","dx":-20,"fontSize":16,"offset":5.3},
"transform":[{"filter":"datum.p=='f'"}],
"encoding":{"x":{"field":"g","type":"nominal","title":null,"scale":{"domain":["Vehicle-Vehicle","Vehicle-LNFPIII","PB/PM-Vehicle","PB/PM-LNFPIII"],"paddingInner":0.35,"paddingOuter":0.14,"align":1},"axis":{"labelAngle":-45,"labelPadding":2,"labelFontSize":7.5}},
"y":{"field":"m","type":"quantitative","scale":{"domain":[0,2.5],"nice":false},"axis":{"title":"5-HIAA/5-HT (ng/mg protein)","values":[0,0.5,1,1.5,2,2.5],"format":".1f"}}},
"layer":[
{"transform":[{"filter":"datum.k=='b' && indexof(datum.g,'LNF')<0"}],"mark":{"type":"bar","stroke":"#1a1a1a","strokeWidth":1.5},"encoding":{"fill":{"condition":{"test":"datum.g=='Vehicle-Vehicle'","value":"#fff"},"value":"#9b9b9b"}}},
{"transform":[{"filter":"datum.k=='b' && datum.g=='Vehicle-LNFPIII'"}],"mark":{"type":"bar","style":"L17","stroke":"#1a1a1a","strokeWidth":1.5}},
{"transform":[{"filter":"datum.k=='b' && indexof(datum.g,'PB')==0 && indexof(datum.g,'LNF')>0"}],"mark":{"type":"bar","style":"D25","stroke":"#1a1a1a","strokeWidth":1.5}},
{"transform":[{"filter":"datum.k=='b'"}],"mark":{"type":"rule","color":"#6a6a6a","strokeWidth":1.3},"encoding":{"y2":{"field":"hi"}}},
{"transform":[{"filter":"datum.k=='b'"}],"mark":{"type":"tick","color":"#6a6a6a","thickness":1.3,"size":11},"encoding":{"y":{"field":"hi","type":"quantitative"}}}
]},
{"width":154,"height":100,"title":{"text":"f')","anchor":"start","frame":"group","dx":-21,"fontSize":16,"offset":5.3},
"transform":[{"filter":"datum.p=='f2'"}],
"encoding":{"x":{"field":"g","type":"nominal","title":null,"scale":{"domain":["Vehicle-Vehicle","Vehicle-LNFPIII","PB/DEET/CORT/DFP-Vehicle","PB/DEET/CORT/DFP-LNFPIII"],"paddingInner":0.35,"paddingOuter":0.55,"align":0.57},"axis":{"labelAngle":-45,"labelPadding":2,"labelFontSize":7.5}},
"y":{"field":"m","type":"quantitative","scale":{"domain":[0,5],"nice":false},"axis":{"title":"5-HIAA/5-HT (ng/mg protein)","values":[0,1,2,3,4,5]}}},
"layer":[
{"transform":[{"filter":"datum.k=='b' && indexof(datum.g,'LNF')<0"}],"mark":{"type":"bar","stroke":"#1a1a1a","strokeWidth":1.5},"encoding":{"fill":{"condition":{"test":"datum.g=='Vehicle-Vehicle'","value":"#fff"},"value":"#9b9b9b"}}},
{"transform":[{"filter":"datum.k=='b' && datum.g=='Vehicle-LNFPIII'"}],"mark":{"type":"bar","style":"L17","stroke":"#1a1a1a","strokeWidth":1.5}},
{"transform":[{"filter":"datum.k=='b' && indexof(datum.g,'PB')==0 && indexof(datum.g,'LNF')>0"}],"mark":{"type":"bar","style":"D21","stroke":"#1a1a1a","strokeWidth":1.5}},
{"transform":[{"filter":"datum.k=='b'"}],"mark":{"type":"rule","color":"#6a6a6a","strokeWidth":1.3},"encoding":{"y2":{"field":"hi"}}},
{"transform":[{"filter":"datum.k=='b'"}],"mark":{"type":"tick","color":"#6a6a6a","thickness":1.3,"size":11},"encoding":{"y":{"field":"hi","type":"quantitative"}}}
]}
]}
]}
]
}
